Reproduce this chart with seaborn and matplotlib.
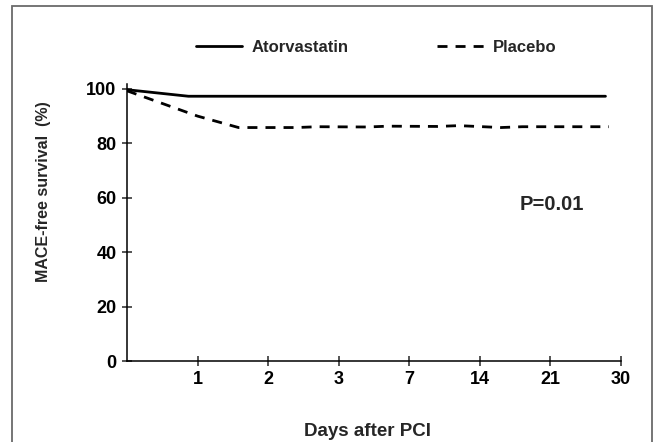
import pandas as pd
import matplotlib
matplotlib.use("Agg")
import matplotlib.pyplot as plt
import seaborn as sns
from matplotlib.patches import Rectangle
from matplotlib.lines import Line2D


# Day labels on the (evenly spaced) x axis, position 0 = day of PCI
day_labels = ['1', '2', '3', '7', '14', '21', '30']

# Atorvastatin arm: position on the day axis and MACE-free survival (%)
atorva_pos = [0, 0.87, 6.78]
atorva_surv = [99.7, 97.3, 97.3]

# Placebo arm
placebo_pos = [0, 1.0, 1.58, 2.4, 2.7, 3.4, 3.7, 4.4, 4.7, 5.3, 5.6, 6.83]
placebo_surv = [99.3, 90.0, 85.8, 85.8, 86.1, 86.0, 86.3, 86.2, 86.5, 85.8, 86.1, 86.1]

df = pd.concat([
    pd.DataFrame({'Day': atorva_pos, 'Survival': atorva_surv, 'Group': 'Atorvastatin'}),
    pd.DataFrame({'Day': placebo_pos, 'Survival': placebo_surv, 'Group': 'Placebo'}),
], ignore_index=True)


# Plot
sns.set_style("ticks", {'axes.grid': False,
                        'axes.facecolor': 'white',
                        'axes.edgecolor': 'black'})
plt.rcParams['font.family'] = ['Liberation Sans', 'DejaVu Sans']
plt.rcParams['font.weight'] = 'bold'

fig = plt.figure(figsize=(6.56, 4.42), dpi=100)
ax = fig.add_axes([127/656, 1 - 361/442, 494/656, 277/442])

dash_styles = {'Atorvastatin': '', 'Placebo': (3.6, 2.9)}
sns.lineplot(data=df, x='Day', y='Survival', style='Group',
             dashes=dash_styles, color='black', linewidth=2.0,
             estimator=None, legend=False, ax=ax)

ax.set_xlim(0, 7)
ax.set_ylim(0, 101.8)
ax.set_xticks(range(1, 8))
ax.set_xticklabels(day_labels)
ax.set_yticks(range(0, 101, 20))

ax.spines["right"].set_visible(False)
ax.spines["top"].set_visible(False)
for sp in ['left', 'bottom']:
    ax.spines[sp].set_linewidth(1.1)

ax.tick_params(axis='both', direction='inout', length=7, width=1.1,
               labelsize=13, labelcolor='black')
ax.tick_params(axis='x', pad=4)
ax.tick_params(axis='y', pad=4)

ax.set_xlabel("Days after PCI", fontsize=13.5, fontweight='bold')
ax.set_ylabel("MACE-free survival  (%)", fontsize=11.5, fontweight='bold')
ax.xaxis.set_label_coords(0.486, -0.225)
ax.yaxis.set_label_coords(-0.153, 0.61)

ax.text(0.86, 0.565, "P=0.01", transform=ax.transAxes, fontsize=14.5,
        fontweight='bold', ha='center', va='center')

# legend above the plot
handles = [Line2D([], [], color='black', lw=2.0, ls='-'),
           Line2D([], [], color='black', lw=2.0, dashes=dash_styles['Placebo'])]
fig.legend(handles, ['Atorvastatin', 'Placebo'], ncol=2, frameon=False,
           loc='center', bbox_to_anchor=(376/656, 1 - 47/442),
           fontsize=12, handlelength=2.8, handletextpad=0.55,
           columnspacing=5.3)

# grey frame around the figure (open at the bottom)
fig.patches.append(Rectangle((12/656, -0.05), 640/656, 1.05 - 5.5/442,
                             transform=fig.transFigure, fill=False,
                             edgecolor='#6a6a6a', linewidth=1.3,
                             clip_on=False))

plt.savefig('out.png', dpi=100)
